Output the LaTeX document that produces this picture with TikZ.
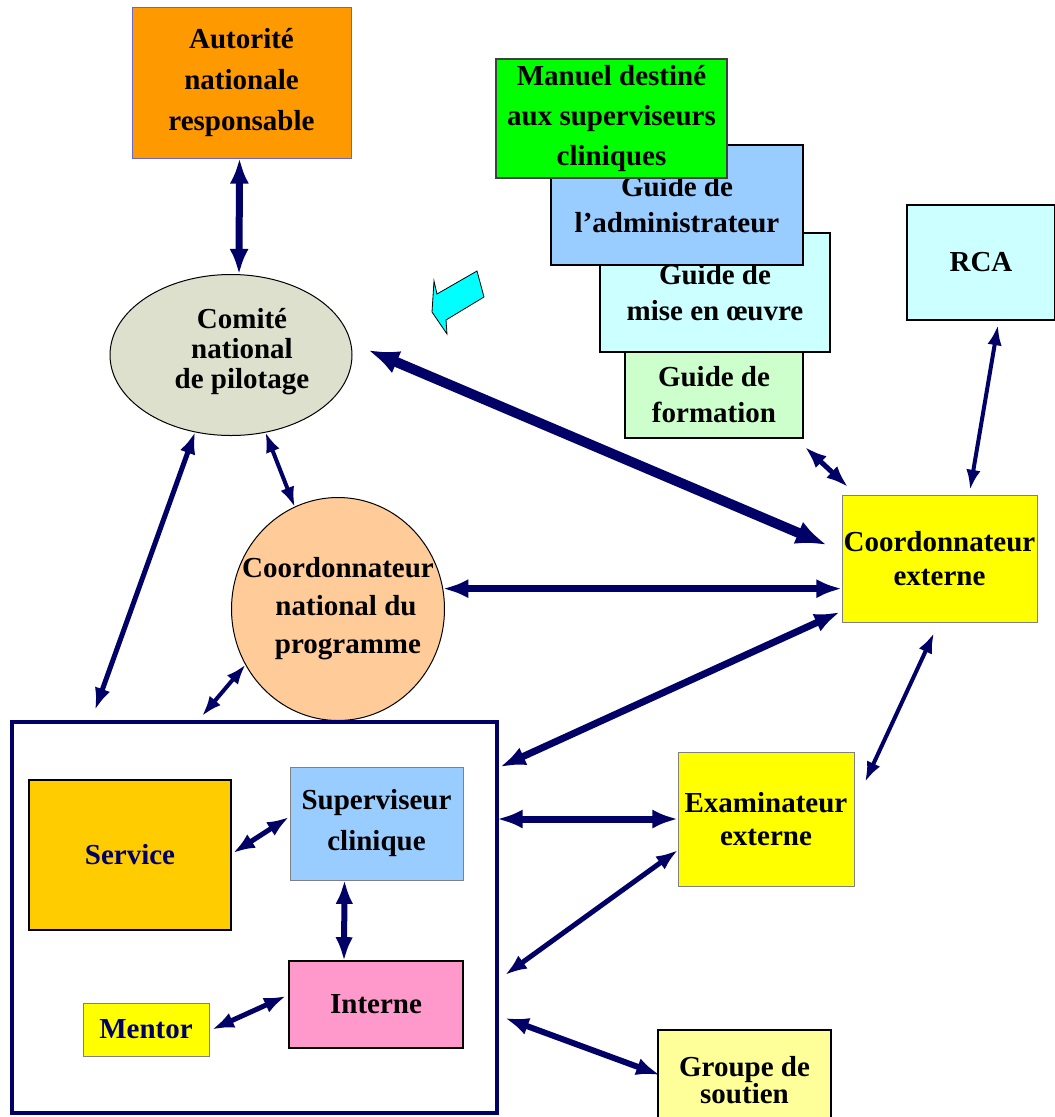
\documentclass[tikz,border=0pt]{standalone}
\usepackage{fontspec}
\setmainfont{Liberation Serif}
\usetikzlibrary{shapes.geometric,arrows.meta}

\definecolor{navy}{RGB}{0,0,102}
\definecolor{edgeblue}{RGB}{102,102,204}
\definecolor{autofill}{RGB}{255,153,0}
\definecolor{comitefill}{RGB}{221,224,204}
\definecolor{natfill}{RGB}{255,204,153}
\definecolor{manuelfill}{RGB}{0,255,0}
\definecolor{adminfill}{RGB}{153,204,255}
\definecolor{misefill}{RGB}{204,255,255}
\definecolor{formfill}{RGB}{204,255,204}
\definecolor{servfill}{RGB}{255,204,0}
\definecolor{internfill}{RGB}{255,153,204}
\definecolor{groupfill}{RGB}{255,255,153}
\definecolor{extfill}{RGB}{255,255,0}
\definecolor{pointerfill}{RGB}{0,255,255}

\begin{document}
\begin{tikzpicture}[x=1pt,y=-1pt,
  lead/.style={font=\bfseries\fontsize{29}{#1}\selectfont},
  box/.style={draw=black, line width=1.5pt, rectangle, align=center, inner sep=0pt, outer sep=0pt, lead=37},
  softbox/.style={box, draw=gray, line width=1pt},
  blob/.style={draw=black, line width=1pt, ellipse, align=center, inner sep=0pt, outer sep=0pt, lead=30},
  link/.style={draw=navy, line width=#1, >={Latex[length=13pt 1.8,width=8pt 1.6]}, <->},
]
  \useasboundingbox (0,0) rectangle (1055,1117);

  % Top: authority and steering committee
  \node[box, draw=edgeblue, line width=1pt, fill=autofill, minimum width=219, minimum height=151, lead=41]
    (auto) at (241.5,82.5) {Autorité\\nationale\\responsable};
  \node[blob, fill=comitefill, minimum width=242, minimum height=161,
    label={[lead=30, align=center, xshift=11, yshift=3]center:Comité\\national\\de pilotage}]
    (comite) at (231,355) {};
  \node[blob, fill=natfill, minimum width=213, minimum height=223,
    label={[lead=38, align=center]center:Coordonnateur\\\hspace*{16pt}national du\\\hspace*{20pt}programme}]
    (coordnat) at (338,609) {};

  % Pile of guides
  \node[box, fill=formfill, minimum width=178, minimum height=86, lead=36]
    (formation) at (714,395) {Guide de\\formation};
  \node[box, fill=misefill, minimum width=230, minimum height=119, lead=36]
    (mise) at (715,292.5) {Guide de\\mise en œuvre};
  \node[box, fill=adminfill, minimum width=252, minimum height=120, lead=36]
    (admin) at (677,205) {Guide de\\l’administrateur};
  \node[box, draw=darkgray, fill=manuelfill, minimum width=231, minimum height=119, lead=40]
    (manuel) at (611.5,118.5) {Manuel destiné\\aux superviseurs\\cliniques};
  \draw[fill=pointerfill, line width=0.8pt] (434,281) -- (437,294) -- (477,271) -- (484,297)
    -- (446,320) -- (447,334) -- (432,312) -- cycle;

  % External side
  \node[box, fill=misefill, minimum width=148, minimum height=115]
    (rca) at (981,262.5) {RCA};
  \node[softbox, fill=extfill, minimum width=195, minimum height=127, lead=34]
    (coordext) at (939.5,558.5) {Coordonnateur\\externe};
  \node[softbox, fill=extfill, minimum width=176, minimum height=134, lead=33]
    (exam) at (766,819) {Examinateur\\externe};
  \node[box, fill=groupfill, minimum width=173, minimum height=100, lead=27]
    (groupe) at (744.5,1080) {Groupe de\\soutien};

  % Site frame and its contents
  \node[draw=navy, line width=4pt, inner sep=0pt, outer sep=0pt, minimum width=485, minimum height=391]
    (frame) at (254.5,917.5) {};
  \node[box, line width=2pt, fill=servfill, text=navy, minimum width=202, minimum height=150]
    (service) at (130,855) {Service};
  \node[softbox, fill=adminfill, minimum width=173, minimum height=113, lead=41]
    (superv) at (376.5,823.5) {Superviseur\\clinique};
  \node[box, line width=2pt, fill=internfill, minimum width=174, minimum height=87]
    (interne) at (376,1004.5) {Interne};
  \node[softbox, fill=extfill, text=navy, minimum width=126, minimum height=53]
    (mentor) at (146,1029.5) {Mentor};

  % Links
  \draw[link=7pt] ([xshift=-2]auto.south) -- ([xshift=8]comite.north);
  \draw[link=10pt] ([xshift=16,yshift=5]comite.east) -- ([xshift=-15,yshift=13.5]coordext.west);
  \draw[link=5pt] (comite.245) -- ([xshift=83,yshift=12]frame.north west);
  \draw[link=4pt] (comite.294) -- (coordnat.113);
  \draw[link=4pt] (coordnat.211) -- ([xshift=190,yshift=6]frame.north west);
  \draw[link=7pt] (coordnat.11) -- (coordnat.11 -| coordext.west);
  \draw[link=5pt] ([xshift=2,yshift=-9]formation.south east) -- ([xshift=6,yshift=8]coordext.north west);
  \draw[link=4pt] ([xshift=17,yshift=-5]rca.south) -- ([xshift=30.5,yshift=5]coordext.north);
  \draw[link=7pt] ([xshift=3,yshift=-45]frame.north east) -- ([xshift=-2,yshift=10]coordext.south west);
  \draw[link=4pt] ([xshift=-5.5,yshift=-11]coordext.south) -- ([xshift=11,yshift=-30]exam.north east);
  \draw[link=7pt] (exam.west -| frame.east) -- (exam.west);
  \draw[link=5pt] ([xshift=8,yshift=-57.5]frame.east) -- ([yshift=-31]exam.west);
  \draw[link=6pt] ([xshift=8,yshift=-100.5]frame.east) -- ([xshift=2,yshift=5]groupe.west);
  \draw[link=5pt] ([xshift=2,yshift=2]service.east) -- ([xshift=-1,yshift=6.5]superv.west);
  \draw[link=6pt] ([xshift=-32]superv.south) -- ([xshift=-32]interne.north);
  \draw[link=5pt] ([xshift=3]mentor.east) -- ([xshift=-3,yshift=8.5]interne.west);
\end{tikzpicture}
\end{document}
